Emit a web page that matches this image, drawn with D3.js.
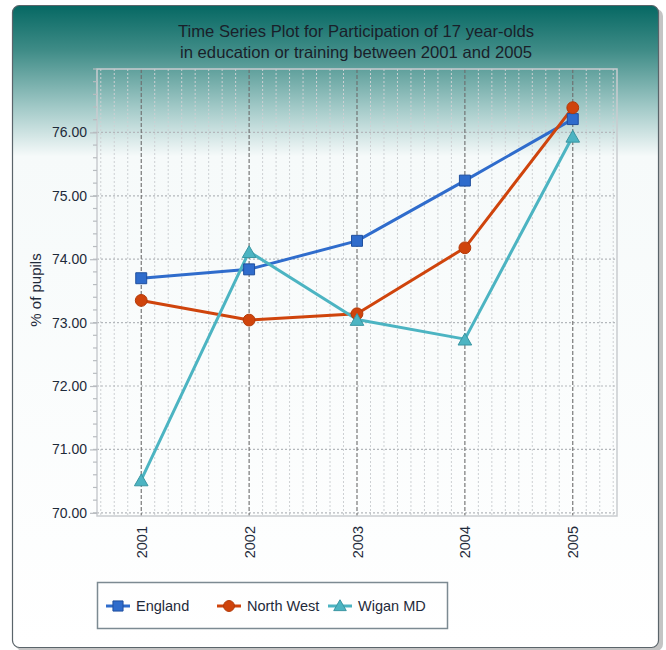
<!DOCTYPE html>
<html><head><meta charset="utf-8">
<script src="https://cdn.jsdelivr.net/npm/d3@7"></script>
<style>body{margin:0;background:#fff;}svg{display:block;}</style>
</head><body>
<script>
const years = ["2001","2002","2003","2004","2005"];
const england = [73.70, 73.84, 74.29, 75.24, 76.21];
const northWest = [73.35, 73.04, 73.14, 74.18, 76.39];
const wigan = [70.52, 74.12, 73.05, 72.74, 75.94];
const seriesNames = ["England","North West","Wigan MD"];
const yTicks = [70,71,72,73,74,75,76];
const titleLines = ["Time Series Plot for Participation of 17 year-olds","in education or training between 2001 and 2005"];

const W = 666, H = 650;
const svg = d3.select("body").append("svg").attr("width", W).attr("height", H);
const defs = svg.append("defs");
const g1 = defs.append("linearGradient").attr("id","bg").attr("x1",0).attr("y1",0).attr("x2",0).attr("y2",1);
g1.append("stop").attr("offset","0").attr("stop-color","#066863");
g1.append("stop").attr("offset","0.07").attr("stop-color","#3f8c87");
g1.append("stop").attr("offset","0.16").attr("stop-color","#a3cac8");
g1.append("stop").attr("offset","0.235").attr("stop-color","#f6fafa");
g1.append("stop").attr("offset","1").attr("stop-color","#ffffff");

// card shadow + card
svg.append("rect").attr("x",16).attr("y",9).attr("width",647).attr("height",642).attr("rx",7).attr("fill","#c4c4c4");
svg.append("rect").attr("x",12.5).attr("y",5.5).attr("width",646).attr("height",642).attr("rx",7)
  .attr("fill","url(#bg)").attr("stroke","#5a646a").attr("stroke-width",1.2);

const pl = 97, pr = 617, pt = 69, pb = 516;
const x = d3.scaleLinear().domain([2000.59, 2005.41]).range([pl, pr]);
const y = d3.scaleLinear().domain([69.95, 77.0]).range([pb, pt]);

const grid = svg.append("g");
const minorX = d3.range(2000.625, 2005.41, 0.125).filter(v => Math.abs(v - Math.round(v)) > 1e-6);
grid.selectAll("line.mx").data(minorX).enter().append("line")
  .attr("x1", d=>x(d)).attr("x2", d=>x(d)).attr("y1", pt).attr("y2", pb)
  .attr("stroke","#cdd0d3").attr("stroke-width",1).attr("stroke-dasharray","2,2");
grid.selectAll("line.hy").data(yTicks).enter().append("line")
  .attr("x1", pl).attr("x2", pr).attr("y1", d=>y(d)).attr("y2", d=>y(d))
  .attr("stroke","#b4b8bc").attr("stroke-width",1.2).attr("stroke-dasharray","2,2");
grid.selectAll("line.vy").data(years).enter().append("line")
  .attr("x1", d=>x(+d)).attr("x2", d=>x(+d)).attr("y1", pt).attr("y2", pb)
  .attr("stroke","#6c6c6c").attr("stroke-width",1.1).attr("stroke-dasharray","4,2");

svg.append("rect").attr("x",pl).attr("y",pt).attr("width",pr-pl).attr("height",pb-pt)
  .attr("fill","none").attr("stroke","#c9cccf").attr("stroke-width",1.5);

// y axis
const minorY = d3.range(70, 77.01, 0.2);
const yAxis = d3.axisLeft(y).tickValues(yTicks).tickFormat(d3.format(".2f")).tickSize(7).tickPadding(3);
const ya = svg.append("g").attr("transform",`translate(${pl},0)`).call(yAxis);
ya.select(".domain").remove();
ya.selectAll("line").attr("stroke","#b8bcc0").attr("stroke-width",1.2);
ya.selectAll("text").attr("font-family","Liberation Sans, Arial, sans-serif").attr("font-size",14).attr("fill","#1e2a3a");
svg.append("g").selectAll("line").data(minorY).enter().append("line")
  .attr("x1", pl-4).attr("x2", pl).attr("y1", d=>y(d)).attr("y2", d=>y(d))
  .attr("stroke","#b8bcc0").attr("stroke-width",1.2);

// x axis
const xAxis = d3.axisBottom(x).tickValues(years.map(Number)).tickFormat(d3.format("d")).tickSize(0).tickPadding(0);
const xa = svg.append("g").attr("transform",`translate(0,${pb})`).call(xAxis);
xa.select(".domain").remove();
xa.selectAll("text").attr("font-family","Liberation Sans, Arial, sans-serif").attr("font-size",14.5).attr("fill","#1e2a3a")
  .attr("transform","rotate(-90)").attr("text-anchor","end").attr("x",-10).attr("y",0).attr("dy","0.35em");

// y label
svg.append("text").attr("transform","translate(41,290) rotate(-90)").attr("text-anchor","middle")
  .attr("font-family","Liberation Sans, Arial, sans-serif").attr("font-size",15).attr("fill","#1e2a3a").text("% of pupils");

// title
svg.append("g").selectAll("text").data(titleLines).enter().append("text")
  .attr("x",356).attr("y",(d,i)=>37+i*21).attr("text-anchor","middle")
  .attr("font-family","Liberation Sans, Arial, sans-serif").attr("font-size",16.5).attr("fill","#1a1f2a")
  .attr("textLength",(d,i)=> i===0 ? 356 : 352).attr("lengthAdjust","spacingAndGlyphs")
  .text(d=>d);

const colors = ["#2f6ccc","#cf440c","#4cb4c2"];
const strokes = ["#1f4f9e","#b33a08","#3a96a2"];
const allData = [england, northWest, wigan];
const line = d3.line().x((d,i)=>x(+years[i])).y(d=>y(d));
const sym = [d3.symbolSquare, d3.symbolCircle, d3.symbolTriangle];
const symSize = [120, 110, 80];

allData.forEach((vals, k) => {
  svg.append("path").datum(vals).attr("d", line).attr("fill","none")
    .attr("stroke", colors[k]).attr("stroke-width",3).attr("stroke-linejoin","round");
});
allData.forEach((vals, k) => {
  svg.append("g").selectAll("path").data(vals).enter().append("path")
    .attr("d", d3.symbol().type(sym[k]).size(symSize[k]))
    .attr("transform",(d,i)=>`translate(${x(+years[i])},${y(d) + (k===2?2:0)})`)
    .attr("fill", colors[k]).attr("stroke", strokes[k]).attr("stroke-width",1);
});

// legend
svg.append("rect").attr("x",97.5).attr("y",582.5).attr("width",350).attr("height",46)
  .attr("fill","none").attr("stroke","#7c8a92").attr("stroke-width",1.5);
const legX = [106, 217, 328];
const lg = svg.append("g");
seriesNames.forEach((n,k)=>{
  const cx = legX[k] + 12;
  lg.append("line").attr("x1",legX[k]).attr("x2",legX[k]+24).attr("y1",606).attr("y2",606)
    .attr("stroke",colors[k]).attr("stroke-width",3);
  lg.append("path").attr("d", d3.symbol().type(sym[k]).size(symSize[k]*0.85))
    .attr("transform",`translate(${cx},${606 + (k===2?1:0)})`).attr("fill",colors[k]).attr("stroke",strokes[k]);
  lg.append("text").attr("x",legX[k]+30).attr("y",611).attr("font-family","Liberation Sans, Arial, sans-serif")
    .attr("font-size",14.5).attr("fill","#1e2a3a").text(n);
});
</script>
</body></html>
